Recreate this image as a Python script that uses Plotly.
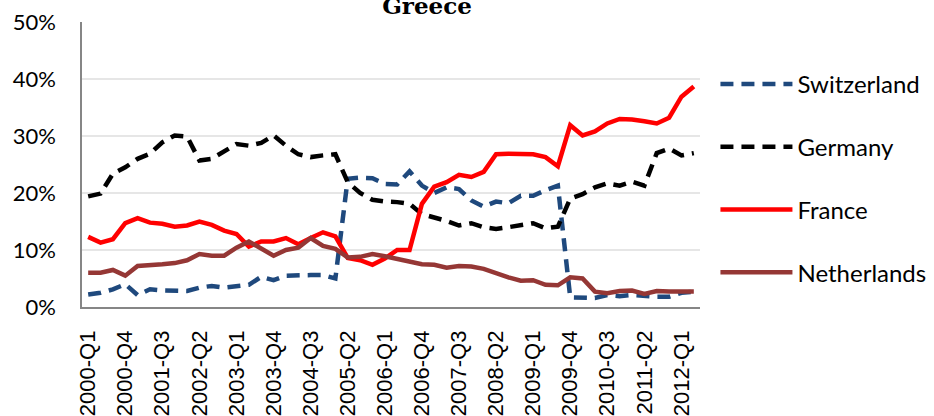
import plotly.graph_objects as go

quarters = [f"{y}-Q{q}" for y in range(2000, 2013) for q in range(1, 5)][:50]

switzerland = [2.2, 2.5, 3.1, 4.0, 2.1, 3.1, 2.9, 2.8, 2.8, 3.4,
               3.7, 3.4, 3.7, 3.9, 5.3, 4.7, 5.5, 5.6, 5.6, 5.6,
               5.0, 22.5, 22.7, 22.6, 21.6, 21.5, 23.8, 21.3, 20.0, 21.0,
               20.7, 18.7, 17.6, 18.5, 18.2, 19.5, 19.5, 20.5, 21.3, 1.7,
               1.6, 1.6, 2.1, 1.9, 2.1, 1.9, 1.8, 1.8, 2.5, 2.7]

germany = [19.4, 19.9, 23.4, 24.5, 26.0, 26.9, 28.9, 30.1, 29.9, 25.7,
           26.0, 27.2, 28.6, 28.3, 28.8, 30.1, 28.3, 26.8, 26.3, 26.6,
           26.8, 21.9, 20.0, 18.8, 18.5, 18.4, 18.1, 16.3, 15.8, 15.1,
           14.3, 14.7, 14.0, 13.7, 14.0, 14.3, 14.7, 13.8, 14.1, 19.0,
           19.8, 21.0, 21.7, 21.3, 22.0, 21.3, 27.0, 27.8, 26.6, 27.0]

france = [12.3, 11.3, 11.9, 14.7, 15.6, 14.8, 14.6, 14.1, 14.3, 15.0,
          14.4, 13.4, 12.8, 10.6, 11.5, 11.5, 12.1, 11.0, 12.1, 13.1,
          12.4, 8.6, 8.2, 7.4, 8.5, 10.0, 10.0, 18.1, 21.1, 21.9,
          23.2, 22.8, 23.7, 26.8, 26.9, 26.9, 26.8, 26.3, 24.7, 31.9,
          30.1, 30.8, 32.2, 33.0, 32.9, 32.6, 32.2, 33.2, 36.9, 38.7]

netherlands = [6.0, 6.0, 6.5, 5.5, 7.2, 7.3, 7.5, 7.7, 8.2, 9.3,
               9.0, 9.0, 10.4, 11.5, 10.2, 9.0, 10.0, 10.4, 12.1, 10.7,
               10.2, 8.7, 8.8, 9.3, 8.9, 8.4, 7.9, 7.5, 7.4, 6.9,
               7.2, 7.1, 6.7, 5.9, 5.2, 4.6, 4.7, 3.9, 3.8, 5.2,
               5.0, 2.7, 2.4, 2.8, 2.9, 2.3, 2.8, 2.7, 2.7, 2.7]

tick_labels = quarters[::3]

series = [
    ("Switzerland", switzerland, "#1F497D", "13px,8px"),
    ("Germany", germany, "#000000", "13px,8px"),
    ("France", france, "#FF0000", "solid"),
    ("Netherlands", netherlands, "#953735", "solid"),
]

fig = go.Figure()

for name, vals, color, dash in series:
    fig.add_trace(
        go.Scatter(
            x=quarters,
            y=[v / 100 for v in vals],
            name=name,
            mode="lines",
            legendgroup=name,
            line=dict(color=color, width=4.5, dash=dash),
        )
    )

fig.update_layout(
    width=934,
    height=416,
    margin=dict(l=82, r=234, t=22, b=109),
    paper_bgcolor="white",
    plot_bgcolor="white",
    font=dict(family="Lato, Open Sans, sans-serif", color="#000000"),
    title=dict(
        text="<b>Greece</b>",
        font=dict(family="DejaVu Serif", size=23, color="#000000"),
        x=427 / 934,
        xanchor="center",
        xref="container",
        yref="container",
        y=0.985,
        yanchor="middle",
    ),
    legend=dict(
        xref="container",
        yref="container",
        x=0.766,
        xanchor="left",
        y=0.851,
        yanchor="top",
        font=dict(size=24),
        tracegroupgap=28.5,
        itemwidth=72,
        maxheight=400,
        bgcolor="rgba(0,0,0,0)",
    ),
    showlegend=True,
)

fig.update_xaxes(
    type="category",
    range=[-0.5, 49.5],
    tickmode="array",
    tickvals=tick_labels,
    ticktext=tick_labels,
    tickangle=-90,
    tickfont=dict(family="Liberation Sans", size=22),
    ticklabelstandoff=13,
    automargin=False,
    showgrid=False,
    showline=True,
    linecolor="#868686",
    linewidth=1.5,
)

fig.update_yaxes(
    range=[0, 0.5],
    dtick=0.1,
    tickformat=".0%",
    tickfont=dict(size=22),
    automargin=False,
    showgrid=True,
    gridcolor="#E6E6E6",
    gridwidth=1.5,
    showline=True,
    linecolor="#868686",
    linewidth=1.5,
    zeroline=False,
    ticklabelstandoff=20,
)

fig.write_html(
    "out.html",
    config={"displayModeBar": False},
    post_script="document.body.style.margin='0';",
)
